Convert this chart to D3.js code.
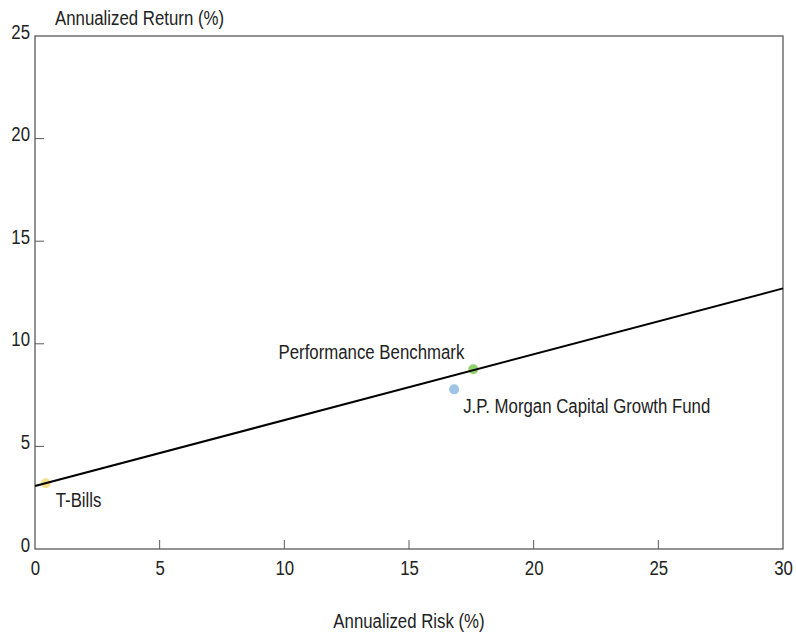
<!DOCTYPE html>
<html><head><meta charset="utf-8">
<script src="https://cdn.jsdelivr.net/npm/d3@7"></script>
<style>
html,body{margin:0;padding:0;background:#fff;}
svg{display:block;}
text{font-family:"Liberation Sans Narrow","Arial Narrow","Liberation Sans",Arial,sans-serif;fill:#222;}
</style></head>
<body>
<script>
const names = ["T-Bills", "Performance Benchmark", "J.P. Morgan Capital Growth Fund"];
const risk = [0.43, 17.58, 16.81];
const ret = [3.2, 8.76, 7.78];
const colors = ["#f3df8c", "#8fd16a", "#9fc5e6"];
const lineRisk = [0, 30];
const lineRet = [3.07, 12.7];
const xTicks = [0, 5, 10, 15, 20, 25, 30];
const yTicks = [0, 5, 10, 15, 20, 25];

const W = 796, H = 634;
const m = {left: 35, right: 13, top: 36, bottom: 85};
const FONT = '"Liberation Sans Narrow","Arial Narrow","Liberation Sans",Arial,sans-serif';
const svg = d3.select("body").append("svg").attr("width", W).attr("height", H);
const x = d3.scaleLinear().domain([0, 30]).range([m.left, W - m.right]);
const y = d3.scaleLinear().domain([0, 25]).range([H - m.bottom, m.top]);

// frame
svg.append("rect").attr("x", x(0)).attr("y", y(25))
  .attr("width", x(30) - x(0)).attr("height", y(0) - y(25))
  .attr("fill", "none").attr("stroke", "#5a5a5a").attr("stroke-width", 1.3);

// x axis
const xa = svg.append("g").attr("transform", `translate(0,${y(0)})`)
  .call(d3.axisBottom(x).tickValues(xTicks).tickSize(0).tickPadding(12).tickFormat(d3.format("d")));
xa.select(".domain").remove();
xa.selectAll("text").attr("font-size", 20).attr("fill", "#222").style("font-family", FONT);
svg.append("g").selectAll("line").data(xTicks.filter(d => d > 0 && d < 30)).join("line")
  .attr("x1", d => x(d)).attr("x2", d => x(d)).attr("y1", y(0)).attr("y2", y(0) - 9)
  .attr("stroke", "#5a5a5a").attr("stroke-width", 1);

// y axis
const ya = svg.append("g").attr("transform", `translate(${x(0)},0)`)
  .call(d3.axisLeft(y).tickValues(yTicks).tickSize(0).tickPadding(5).tickFormat(d3.format("d")));
ya.select(".domain").remove();
ya.selectAll("text").attr("font-size", 20).attr("fill", "#222").attr("dy", "0.1em").style("font-family", FONT);
svg.append("g").selectAll("line").data(yTicks.filter(d => d > 0 && d < 25)).join("line")
  .attr("x1", x(0)).attr("x2", x(0) + 9).attr("y1", d => y(d)).attr("y2", d => y(d))
  .attr("stroke", "#5a5a5a").attr("stroke-width", 1);

// points
const pts = names.map((n, i) => ({n, r: risk[i], v: ret[i], c: colors[i]}));
svg.append("g").selectAll("circle").data(pts).join("circle")
  .attr("cx", d => x(d.r)).attr("cy", d => y(d.v)).attr("r", 5)
  .attr("fill", d => d.c);

// line
svg.append("path")
  .attr("d", d3.line().x(d => x(d[0])).y(d => y(d[1]))(lineRisk.map((r, i) => [r, lineRet[i]])))
  .attr("stroke", "#000").attr("stroke-width", 2).attr("fill", "none");

// labels
const labelPos = [
  {dx: 10, dy: 24, anchor: "start"},
  {dx: -9, dy: -10, anchor: "end"},
  {dx: 9, dy: 24, anchor: "start"}
];
svg.append("g").selectAll("text").data(pts).join("text")
  .attr("x", (d, i) => x(d.r) + labelPos[i].dx)
  .attr("y", (d, i) => y(d.v) + labelPos[i].dy)
  .attr("text-anchor", (d, i) => labelPos[i].anchor)
  .attr("font-size", 20)
  .text(d => d.n);

// axis titles
svg.append("text").attr("x", 55).attr("y", 25).attr("font-size", 20).text("Annualized Return (%)");
svg.append("text").attr("x", 409).attr("y", 628).attr("text-anchor", "middle")
  .attr("font-size", 20).text("Annualized Risk (%)");

// emulate a narrow typeface if no narrow font is installed
svg.selectAll("text").each(function() {
  const len = this.getComputedTextLength();
  if (len > 0) {
    d3.select(this).attr("textLength", len * 0.84).attr("lengthAdjust", "spacingAndGlyphs");
  }
});
</script>
</body></html>
